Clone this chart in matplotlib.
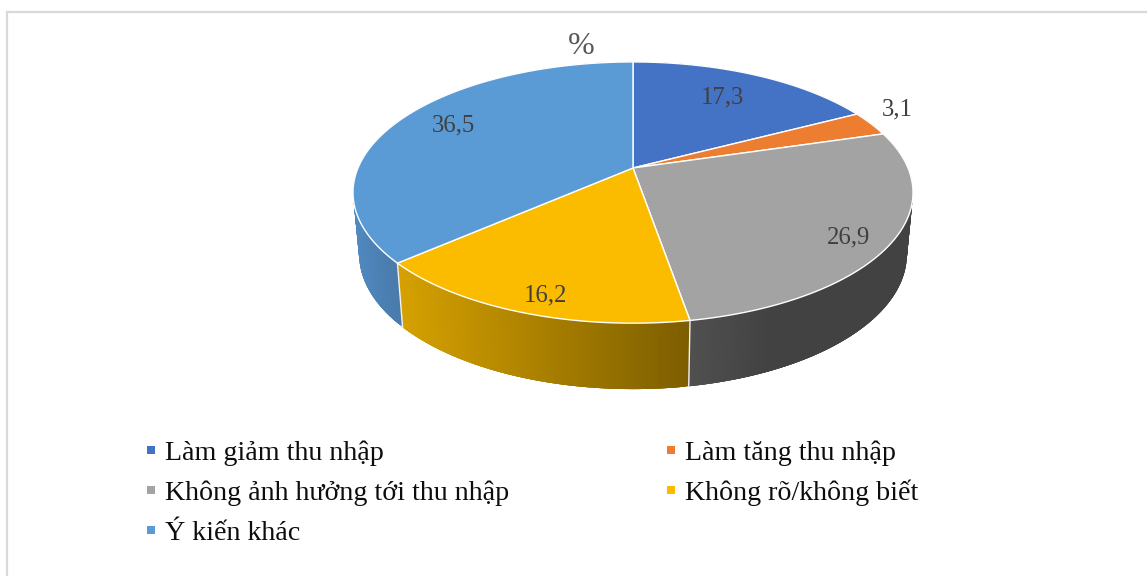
import matplotlib
matplotlib.use('Agg')
import matplotlib.pyplot as plt
import numpy as np
from matplotlib.colors import to_rgb
from matplotlib.patches import Polygon, Rectangle

plt.rcParams['font.family'] = ['Liberation Serif', 'DejaVu Serif']

# data
labels = ['Làm giảm thu nhập', 'Làm tăng thu nhập', 'Không ảnh hưởng tới thu nhập',
          'Không rõ/không biết', 'Ý kiến khác']
values = [17.3, 3.1, 26.9, 16.2, 36.5]
value_text = ['17,3', '3,1', '26,9', '16,2', '36,5']

# styles
colors = ['#4472c4', '#ed7d31', '#a3a3a3', '#fbbc00', '#5b9bd5']
side_left = ['#2f5597', '#ae5a21', '#505050', '#d6a100', '#5088bf']
side_right = ['#2f5597', '#ae5a21', '#424242', '#7d5e00', '#497bab']
# x range of each side gradient
side_range = [(800, 900), (800, 900), (690, 770), (403, 688), (360, 403)]
label_pos = [(722, 97), (897, 109), (849, 237), (545, 295), (453, 125)]

fig = plt.figure(figsize=(11.47, 5.76), dpi=100)
ax = fig.add_axes([0, 0, 1, 1])

# the tilted pie: circle points through a perspective division
K = 0.188


def ring(t, cy, a, b):
    x, y = np.sin(t), np.cos(t)
    w = 1 + K * y
    return 633 + a * x / w, cy - b * y / w


def top(t):
    return ring(t, 168, 275, 126)


def bottom(t):
    return ring(t, 229, 269, 130)


edges = np.radians(np.cumsum([0] + values) / sum(values) * 360)

# sides first, the top covers whatever is behind it
# overlapping thin quads so the strip can fold over at the silhouette without seams
for i in range(len(values)):
    t = np.linspace(edges[i], edges[i + 1], 160)
    tx, ty = top(t)
    bx, by = bottom(t)
    c0, c1 = np.array(to_rgb(side_left[i])), np.array(to_rgb(side_right[i]))
    x0, x1 = side_range[i]
    for j in range(len(t) - 1):
        k = min(j + 4, len(t) - 1)
        f = np.clip((bx[j] - x0) / (x1 - x0), 0, 1)
        c = c0 + (c1 - c0) * f
        ax.add_patch(Polygon([(tx[j], ty[j]), (tx[k], ty[k]), (bx[k], by[k]), (bx[j], by[j])],
                             closed=True, facecolor=c, edgecolor='none', zorder=1))
    if np.cos(edges[i]) < 0.2:
        ax.plot([top(edges[i])[0], bottom(edges[i])[0]],
                [top(edges[i])[1], bottom(edges[i])[1]], color='#f2f2f2', lw=1, zorder=2)

for i in range(len(values)):
    t = np.linspace(edges[i], edges[i + 1], 200)
    tx, ty = top(t)
    xy = np.column_stack([np.r_[633, tx], np.r_[168, ty]])
    ax.add_patch(Polygon(xy, closed=True, facecolor=colors[i], edgecolor='white', lw=1.0,
                         joinstyle='round', zorder=3))
    ax.text(label_pos[i][0], label_pos[i][1], value_text[i], fontsize=17.8, color='#404040',
            ha='center', va='center', zorder=4)

ax.text(581.5, 47, '%', fontsize=23, color='#595959', ha='center', va='center')

# legend written out by hand, two columns
legend_x = [147, 667, 147, 667, 147]
legend_y = [453, 453, 493, 493, 533]
marker_y = [450, 450, 490, 490, 530]
for i in range(len(labels)):
    ax.add_patch(Rectangle((legend_x[i], marker_y[i] - 4), 8, 8, facecolor=colors[i], edgecolor='none'))
    ax.text(legend_x[i] + 18, legend_y[i], labels[i], fontsize=20.2, color='#0d0d0d', ha='left', va='center')

# frame of the screenshot, only top and left show
ax.plot([7, 7], [576, 12], color='#d9d9d9', lw=1.6)
ax.plot([7, 1147], [12, 12], color='#d9d9d9', lw=1.6)

ax.set_xlim(0, 1147)
ax.set_ylim(576, 0)
ax.axis('off')

fig.savefig('out.png', dpi=100)
